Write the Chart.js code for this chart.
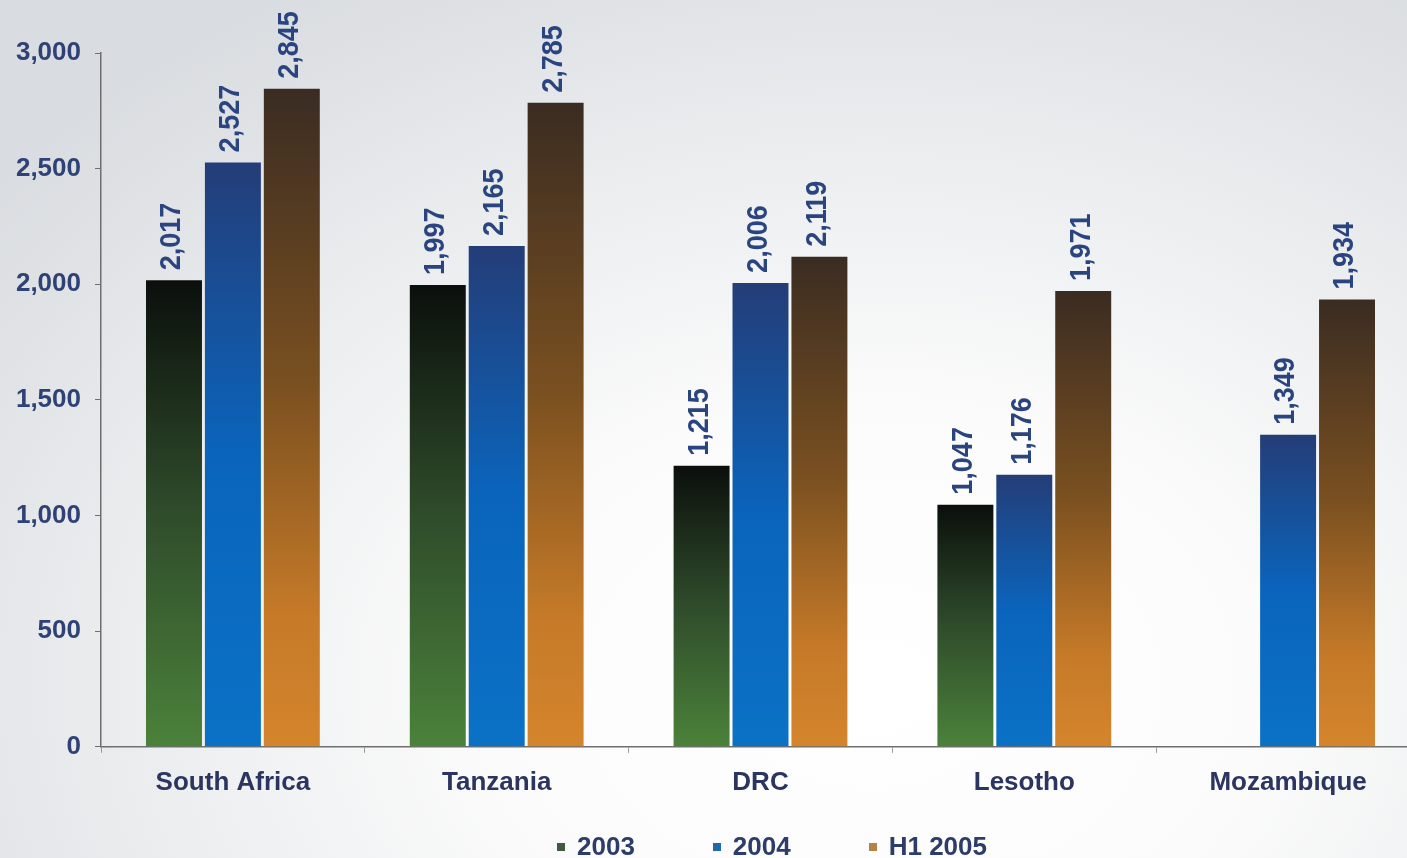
<!DOCTYPE html>
<html>
<head>
<meta charset="utf-8">
<script src="https://cdn.jsdelivr.net/npm/chart.js@4"></script>
<style>
  html, body { margin: 0; padding: 0; overflow: hidden; }
  body {
    width: 1407px; height: 858px;
    background: radial-gradient(ellipse 80% 95% at 62% 80%, #ffffff 0%, #fbfbfb 35%, #e9ebed 70%, #d9dce0 100%);
    font-family: "Liberation Sans", Arial, sans-serif;
  }
  #wrap { position: absolute; left: 0; top: 0; width: 1420px; height: 858px; }
  #legend {
    position: absolute; left: 557px; top: 831px;
    display: flex; align-items: center;
    font-weight: bold; font-size: 26px; color: #2c3d6a;
  }
  .item { display: flex; align-items: center; margin-right: 78px; }
  .box { width: 8px; height: 8px; margin-right: 12px; }
</style>
</head>
<body>
<div id="wrap"><canvas id="theGraph" width="1420" height="858"></canvas></div>
<div id="legend"></div>
<script>
// countries along the x-axis
var countries = ["South Africa", "Tanzania", "DRC", "Lesotho", "Mozambique"];
var seriesNames = ["2003", "2004", "H1 2005"];

// values per series (Mozambique has no 2003 figure)
var y2003 = [2017, 1997, 1215, 1047, null];
var y2004 = [2527, 2165, 2006, 1176, 1349];
var h12005 = [2845, 2785, 2119, 1971, 1934];

var yTicks = [0, 500, 1000, 1500, 2000, 2500, 3000];

// gradient stops top -> bottom for each series
var fills = [
  [[0, "#0b0f0c"], [0.5, "#2f4c2b"], [1, "#4b823a"]],
  [[0, "#243d78"], [0.5, "#0a64bc"], [1, "#0a72c6"]],
  [[0, "#3a2c22"], [0.45, "#7a5020"], [0.8, "#c67a28"], [1, "#d4852c"]]
];
var legendColors = ["#3f5a40", "#1f6aa8", "#b0844a"];

function barFill(i) {
  return function (c) {
    var chart = c.chart;
    if (!chart.chartArea || c.type !== "data" || c.raw == null) return legendColors[i];
    var y = chart.scales.y;
    var top = y.getPixelForValue(c.raw);
    var bottom = y.getPixelForValue(0);
    var g = chart.ctx.createLinearGradient(0, top, 0, bottom);
    fills[i].forEach(function (s) { g.addColorStop(s[0], s[1]); });
    return g;
  };
}

function fmt(v) { return v.toLocaleString("en-US"); }

// vertical value labels above each bar
var valueLabels = {
  id: "valueLabels",
  afterDatasetsDraw: function (chart) {
    var ctx = chart.ctx;
    ctx.save();
    ctx.font = "bold 27px 'Liberation Sans', Arial, sans-serif";
    ctx.fillStyle = "#2a4480";
    ctx.textAlign = "left";
    ctx.textBaseline = "middle";
    chart.data.datasets.forEach(function (ds, di) {
      chart.getDatasetMeta(di).data.forEach(function (bar, j) {
        var v = ds.data[j];
        if (v == null) return;
        ctx.save();
        ctx.translate(bar.x - 2, bar.y - 10);
        ctx.scale(1.12, 1);
        ctx.rotate(-Math.PI / 2);
        ctx.fillText(fmt(v), 0, 0);
        ctx.restore();
      });
    });
    ctx.restore();
  }
};

var series = [y2003, y2004, h12005];
var ctx = document.getElementById("theGraph");

var graph = new Chart(ctx, {
  type: "bar",
  data: {
    labels: countries,
    datasets: series.map(function (d, i) {
      return {
        label: seriesNames[i],
        data: d,
        backgroundColor: barFill(i),
        borderWidth: 0,
        barPercentage: 0.95,
        categoryPercentage: 0.67
      };
    })
  },
  options: {
    responsive: false,
    animation: false,
    layout: { padding: { top: 53, right: 0, bottom: 46, left: 0 } },
    plugins: {
      legend: { display: false },
      tooltip: { enabled: false }
    },
    scales: {
      x: {
        grid: { drawOnChartArea: false, drawTicks: true, tickLength: 6, color: "#9a9a9a", offset: true },
        border: { color: "#6f6f6f", width: 1.5 },
        ticks: {
          padding: 14,
          color: "#2b3560",
          font: { family: "'Liberation Sans', Arial, sans-serif", size: 26, weight: "bold" }
        }
      },
      y: {
        min: 0,
        max: 3000,
        afterBuildTicks: function (s) { s.ticks = yTicks.map(function (v) { return { value: v }; }); },
        afterFit: function (s) { s.width = 101; },
        grid: { drawOnChartArea: false, drawTicks: true, tickLength: 6, color: "#6f6f6f" },
        border: { color: "#6f6f6f", width: 1.5 },
        ticks: {
          padding: 14,
          color: "#2f4275",
          font: { family: "'Liberation Sans', Arial, sans-serif", size: 26, weight: "bold" },
          callback: function (v) { return fmt(v); }
        }
      }
    }
  },
  plugins: [valueLabels]
});

// legend row under the axis
var legend = document.getElementById("legend");
seriesNames.forEach(function (name, i) {
  var item = document.createElement("div");
  item.className = "item";
  var box = document.createElement("span");
  box.className = "box";
  box.style.background = legendColors[i];
  item.appendChild(box);
  item.appendChild(document.createTextNode(name));
  legend.appendChild(item);
});
</script>
</body>
</html>
